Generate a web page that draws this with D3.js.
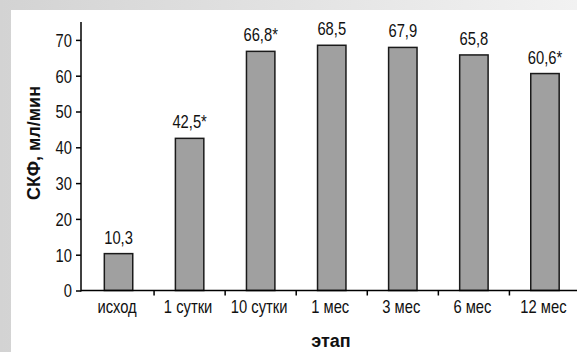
<!DOCTYPE html>
<html>
<head>
<meta charset="utf-8">
<script src="https://cdn.jsdelivr.net/npm/d3@7"></script>
<style>
  html, body { margin: 0; padding: 0; }
  body { width: 577px; height: 352px; overflow: hidden; }
  svg { display: block; }
  .nar { font-family: "Liberation Sans", Arial, sans-serif; }
  .bold { font-family: "Liberation Sans", Arial, sans-serif; font-weight: bold; }
</style>
</head>
<body>
<svg id="chart" width="577" height="352"></svg>
<script>
const categories = ["исход", "1 сутки", "10 сутки", "1 мес", "3 мес", "6 мес", "12 мес"];
const values = [10.3, 42.5, 66.8, 68.5, 67.9, 65.8, 60.6];
const valueLabels = ["10,3", "42,5*", "66,8*", "68,5", "67,9", "65,8", "60,6*"];
const yTicks = [0, 10, 20, 30, 40, 50, 60, 70];
const yTitle = "СКФ, мл/мин";
const xTitle = "этап";

const svg = d3.select("#chart");
const W = 577, H = 352;
const SX = 0.82; // horizontal condensing for the narrow font look

const defs = svg.append("defs");
const grad = defs.append("linearGradient").attr("id", "bg").attr("x1", 0).attr("x2", 1).attr("y1", 0).attr("y2", 0);
grad.append("stop").attr("offset", 0).attr("stop-color", "#d3d3d3");
grad.append("stop").attr("offset", 1).attr("stop-color", "#f2f2f2");
svg.append("rect").attr("width", W).attr("height", H).attr("fill", "url(#bg)");
svg.append("rect").attr("x", 11).attr("y", 10).attr("width", W - 11).attr("height", H - 10).attr("fill", "#fff");

const axisX = 81, axisY = 290.5, topY = 22;
const y = d3.scaleLinear().domain([0, 75]).range([axisY, topY]);
const x = d3.scaleBand().domain(categories).range([83, 580.5]).paddingInner(0.6).paddingOuter(0.3);

// bars
svg.append("g").selectAll("rect").data(values).join("rect")
  .attr("x", (d, i) => x(categories[i]))
  .attr("y", d => y(d))
  .attr("width", x.bandwidth())
  .attr("height", d => y(0) - y(d))
  .attr("fill", "#a0a0a0")
  .attr("stroke", "#1a1a1a")
  .attr("stroke-width", 1.5);

// value labels
svg.append("g").selectAll("text").data(values).join("text")
  .attr("class", "nar")
  .attr("transform", (d, i) => `translate(${x(categories[i]) + x.bandwidth() / 2},${y(d) - 10}) scale(${SX},1)`)
  .attr("text-anchor", "middle")
  .attr("font-size", 18)
  .attr("fill", "#111")
  .text((d, i) => valueLabels[i]);

// y axis
const yAxis = d3.axisLeft(y).tickValues(yTicks).tickSize(5).tickPadding(3).tickFormat(d3.format("d"));
const gy = svg.append("g").attr("transform", `translate(${axisX},0)`).call(yAxis);
gy.select(".domain").remove();
gy.selectAll(".tick line").attr("stroke", "#000").attr("stroke-width", 1.5);
gy.selectAll(".tick text")
  .attr("class", "nar").attr("font-size", 18).attr("fill", "#111")
  .attr("x", -9 / SX).attr("dy", "0.35em")
  .attr("transform", `scale(${SX},1)`);
svg.append("line").attr("x1", axisX).attr("x2", axisX).attr("y1", topY).attr("y2", axisY + 1)
  .attr("stroke", "#000").attr("stroke-width", 1.5);

// x axis
svg.append("line").attr("x1", axisX).attr("x2", W).attr("y1", axisY).attr("y2", axisY)
  .attr("stroke", "#000").attr("stroke-width", 1.5);
const boundaries = categories.slice(1).map(c => x(c) - x.step() * x.paddingOuter());
svg.append("g").selectAll("line").data(boundaries).join("line")
  .attr("x1", d => d).attr("x2", d => d).attr("y1", axisY).attr("y2", axisY + 5)
  .attr("stroke", "#000").attr("stroke-width", 1.5);
svg.append("g").selectAll("text").data(categories).join("text")
  .attr("class", "nar")
  .attr("transform", d => `translate(${x(d) + x.bandwidth() / 2 - 1.5},313) scale(${SX},1)`)
  .attr("text-anchor", "middle")
  .attr("font-size", 18)
  .attr("fill", "#111")
  .text(d => d);

// titles
svg.append("text").attr("class", "bold")
  .attr("x", 331).attr("y", 347)
  .attr("text-anchor", "middle").attr("font-size", 18).attr("fill", "#111")
  .text(xTitle);
svg.append("text").attr("class", "bold")
  .attr("transform", "translate(40,143) rotate(-90)")
  .attr("text-anchor", "middle").attr("font-size", 18).attr("fill", "#111")
  .text(yTitle);
</script>
</body>
</html>
